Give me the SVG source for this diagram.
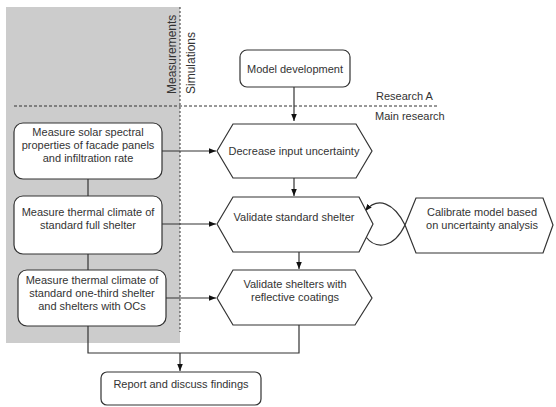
<svg xmlns="http://www.w3.org/2000/svg" width="556" height="407" viewBox="0 0 556 407">
<style>
.box{fill:#fff;stroke:#333;stroke-width:1.2}
.t{font-family:"Liberation Sans",Arial,sans-serif;font-size:11px;fill:#333;text-anchor:middle}
.tl{font-family:"Liberation Sans",Arial,sans-serif;font-size:11px;fill:#333}
.tr{font-family:"Liberation Sans",Arial,sans-serif;font-size:12px;fill:#333}
.ln{fill:none;stroke:#333;stroke-width:1.2}
.dot{fill:none;stroke:#333;stroke-width:1;stroke-dasharray:3,2}
</style>
<defs>
<marker id="ah" viewBox="0 0 10 10" refX="10" refY="5" markerWidth="7" markerHeight="7" orient="auto" markerUnits="userSpaceOnUse">
<path d="M0,1 L10,5 L0,9 Z" fill="#111"/>
</marker>
</defs>
<rect x="6" y="7" width="174" height="336" fill="#cccccc"/>
<g id="dividers">
<line class="dot" x1="180" y1="7" x2="180" y2="332" style="stroke-dasharray:2,2"/>
<line class="dot" x1="14" y1="106" x2="437" y2="106"/>
</g>
<g id="labels">
<text class="tr" transform="translate(176,94) rotate(-90)">Measurements</text>
<text class="tr" transform="translate(195,94) rotate(-90)">Simulations</text>
<text class="tl" x="376" y="100">Research A</text>
<text class="tl" x="375" y="120">Main research</text>
</g>
<g id="connectors">
<line class="ln" x1="294" y1="87" x2="294" y2="121" marker-end="url(#ah)"/>
<line class="ln" x1="162" y1="151" x2="216" y2="151" marker-end="url(#ah)"/>
<line class="ln" x1="162" y1="224" x2="216" y2="224" marker-end="url(#ah)"/>
<line class="ln" x1="166" y1="298" x2="216" y2="298" marker-end="url(#ah)"/>
<line class="ln" x1="88" y1="179" x2="88" y2="196"/>
<line class="ln" x1="88" y1="254" x2="88" y2="270"/>
<line class="ln" x1="294" y1="178" x2="294" y2="196" marker-end="url(#ah)"/>
<line class="ln" x1="299" y1="252" x2="299" y2="269" marker-end="url(#ah)"/>
<polyline class="ln" points="88,326 88,353 299,353 299,325"/>
<line class="ln" x1="180" y1="353" x2="180" y2="371" marker-end="url(#ah)"/>
<path class="ln" d="M405,225 C394,203 378,196 365,211" marker-end="url(#ah)"/>
<path class="ln" d="M405,225 C394,248 376,250 366,237"/>
</g>
<g id="model-development">
<rect class="box" x="240" y="50" width="110" height="37" rx="7"/>
<text class="t" x="295" y="73">Model development</text>
</g>
<g id="measure-solar">
<rect class="box" x="14" y="123" width="148" height="56" rx="9"/>
<text class="t" x="88" y="136">Measure solar spectral</text>
<text class="t" x="88" y="149">properties of facade panels</text>
<text class="t" x="88" y="162">and infiltration rate</text>
</g>
<g id="measure-full">
<rect class="box" x="14" y="196" width="148" height="58" rx="9"/>
<text class="t" x="88" y="216">Measure thermal climate of</text>
<text class="t" x="88" y="229">standard full shelter</text>
</g>
<g id="measure-onethird">
<rect class="box" x="18" y="270" width="148" height="56" rx="9"/>
<text class="t" x="92" y="284">Measure thermal climate of</text>
<text class="t" x="92" y="297">standard one-third shelter</text>
<text class="t" x="92" y="310">and shelters with OCs</text>
</g>
<g id="decrease-uncertainty">
<polygon class="box" points="217,151 233,124 356,124 372,151 356,178 233,178"/>
<text class="t" x="294" y="155">Decrease input uncertainty</text>
</g>
<g id="validate-standard">
<polygon class="box" points="217,224 233,197 359,197 373,224 359,252 233,252"/>
<text class="t" x="294" y="221">Validate standard shelter</text>
</g>
<g id="calibrate">
<polygon class="box" points="405,225 416,198 543,198 553,225 543,253 416,253"/>
<text class="t" x="482" y="216">Calibrate model based</text>
<text class="t" x="482" y="229">on uncertainty analysis</text>
</g>
<g id="validate-reflective">
<polygon class="box" points="217,298 233,270 355,270 372,298 355,325 233,325"/>
<text class="t" x="295" y="288">Validate shelters with</text>
<text class="t" x="295" y="301">reflective coatings</text>
</g>
<g id="report">
<rect class="box" x="101" y="372" width="160" height="33" rx="6"/>
<text class="t" x="181" y="388">Report and discuss findings</text>
</g>
</svg>
